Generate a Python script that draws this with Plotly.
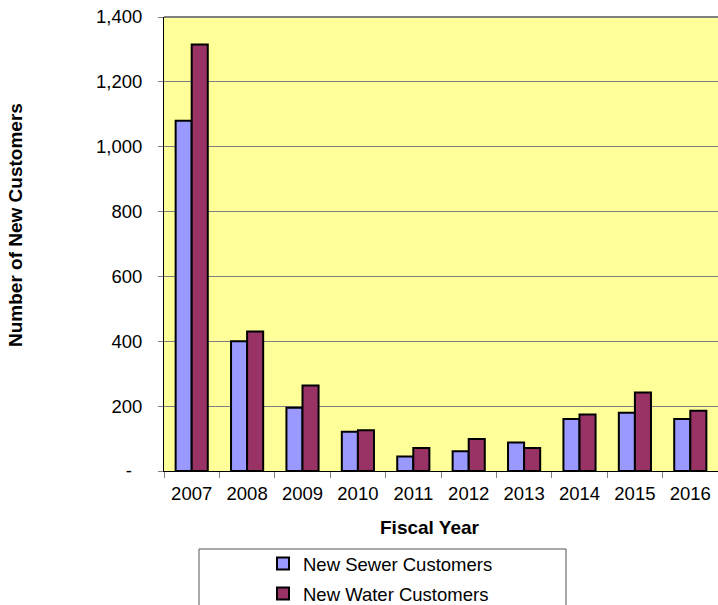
import plotly.graph_objects as go

# ---- data ----
years = ["2007", "2008", "2009", "2010", "2011", "2012", "2013", "2014", "2015", "2016"]
sewer = [1080, 400, 195, 121, 45, 61, 88, 160, 180, 160]
water = [1315, 430, 264, 126, 71, 99, 71, 174, 242, 186]
series_names = ["New Sewer Customers", "New Water Customers"]
y_tick_vals = [0, 200, 400, 600, 800, 1000, 1200, 1400]
y_tick_text = ["-\u00a0\u00a0", "200", "400", "600", "800", "1,000", "1,200", "1,400"]

FONT = "Arial, 'Liberation Sans', sans-serif"
W, H = 718, 605
L, R, T, B = 164, 0, 17, 134
pw, ph = W - L - R, H - T - B

def px_x(p):
    return (p - L) / pw

def px_y(p):
    return (H - B - p) / ph

fig = go.Figure()
fig.add_trace(go.Bar(x=years, y=sewer, name=series_names[0], legendgroup="a",
                     marker=dict(color="#9999FF", line=dict(color="black", width=2))))
fig.add_trace(go.Bar(x=years, y=water, name=series_names[1], legendgroup="b",
                     marker=dict(color="#993366", line=dict(color="black", width=2))))

fig.update_layout(
    width=W, height=H,
    margin=dict(l=L, r=R, t=T, b=B, pad=0, autoexpand=False),
    paper_bgcolor="white", plot_bgcolor="#FFFF99",
    font=dict(family=FONT, size=18.5, color="black"),
    barmode="group", bargap=0.42, bargroupgap=0,
    showlegend=True,
    legend=dict(xref="container", yref="container",
                x=263 / W, y=1 - 545 / H, xanchor="left", yanchor="top",
                bgcolor="rgba(0,0,0,0)", borderwidth=0, tracegroupgap=3,
                traceorder="grouped", font=dict(size=18.5, family=FONT)),
)
fig.update_xaxes(
    type="category", range=[-0.5, len(years) - 0.5],
    showline=True, linecolor="black", linewidth=1,
    ticks="outside", tickson="boundaries", ticklen=6, tickcolor="#808080",
    tickfont=dict(size=18.5), showgrid=False, ticklabelstandoff=6,
)
fig.update_yaxes(
    range=[0, 1400], tickvals=y_tick_vals, ticktext=y_tick_text,
    showline=True, linecolor="black", linewidth=1,
    ticks="outside", ticklen=5, tickcolor="#808080",
    showgrid=True, gridcolor="#808080", gridwidth=1, zeroline=False,
    tickfont=dict(size=18.5), ticklabelstandoff=12,
)

# axis titles
fig.add_annotation(text="<b>Fiscal Year</b>", xref="paper", yref="paper",
                   x=px_x(430), y=px_y(527), showarrow=False,
                   font=dict(size=19), xanchor="center", yanchor="middle")
fig.add_annotation(text="<b>Number of New Customers</b>", xref="paper", yref="paper",
                   x=px_x(15), y=px_y(225), showarrow=False, textangle=-90,
                   font=dict(size=19), xanchor="center", yanchor="middle")

# plot area top border and legend box
fig.add_shape(type="line", xref="paper", yref="paper", x0=0, x1=1, y0=1, y1=1,
              line=dict(color="#808080", width=2))
fig.add_shape(type="rect", xref="paper", yref="paper",
              x0=px_x(199), x1=px_x(566), y0=px_y(549), y1=px_y(620),
              line=dict(color="#555555", width=1), fillcolor="rgba(0,0,0,0)")

fig.write_html("out.html")
